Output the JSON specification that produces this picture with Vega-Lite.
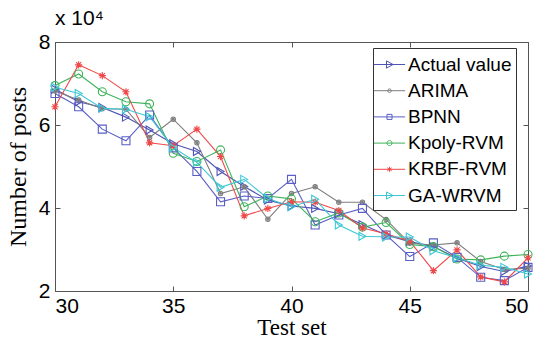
{
  "$schema": "https://vega.github.io/schema/vega-lite/v6.json",
  "width": 473,
  "height": 249,
  "autosize": {"type": "none"},
  "padding": {"left": 55, "top": 42, "right": 15, "bottom": 49},
  "background": "white",
  "title": {"text": "x 10⁴", "anchor": "start", "frame": "group", "font": "Liberation Sans", "fontSize": 21, "fontWeight": "normal", "offset": 2, "color": "black"},
  "config": {
    "view": {"stroke": "#555", "strokeWidth": 1},
    "axis": {"grid": false, "domain": false, "tickSize": -5, "tickColor": "#555", "labelFont": "Liberation Sans", "labelFontSize": 21, "labelColor": "black", "titleFont": "Liberation Serif", "titleFontSize": 24, "titleFontWeight": "normal", "titleColor": "black"},
    "legend": {"orient": "none", "legendX": 318, "legendY": 6, "strokeColor": "#333", "fillColor": "white", "padding": 4, "labelFont": "Liberation Sans", "labelFontSize": 19, "labelColor": "black", "symbolSize": 576, "symbolStrokeWidth": 1, "symbolOpacity": 1, "labelOffset": 6, "rowPadding": 3.2}
  },
  "data": {"values": [
    {"x":30,"s":"Actual value","v":6.86},{"x":31,"s":"Actual value","v":6.56},{"x":32,"s":"Actual value","v":6.42},{"x":33,"s":"Actual value","v":6.19},{"x":34,"s":"Actual value","v":5.88},{"x":35,"s":"Actual value","v":5.55},{"x":36,"s":"Actual value","v":5.36},{"x":37,"s":"Actual value","v":4.88},{"x":38,"s":"Actual value","v":4.52},{"x":39,"s":"Actual value","v":4.19},{"x":40,"s":"Actual value","v":4.05},{"x":41,"s":"Actual value","v":3.99},{"x":42,"s":"Actual value","v":3.86},{"x":43,"s":"Actual value","v":3.60},{"x":44,"s":"Actual value","v":3.35},{"x":45,"s":"Actual value","v":3.19},{"x":46,"s":"Actual value","v":3.07},{"x":47,"s":"Actual value","v":2.79},{"x":48,"s":"Actual value","v":2.59},{"x":49,"s":"Actual value","v":2.47},{"x":50,"s":"Actual value","v":2.60},
    {"x":30,"s":"ARIMA","v":6.82},{"x":31,"s":"ARIMA","v":6.60},{"x":32,"s":"ARIMA","v":6.39},{"x":33,"s":"ARIMA","v":6.38},{"x":34,"s":"ARIMA","v":5.70},{"x":35,"s":"ARIMA","v":6.14},{"x":36,"s":"ARIMA","v":5.57},{"x":37,"s":"ARIMA","v":4.35},{"x":38,"s":"ARIMA","v":4.51},{"x":39,"s":"ARIMA","v":3.73},{"x":40,"s":"ARIMA","v":4.35},{"x":41,"s":"ARIMA","v":4.51},{"x":42,"s":"ARIMA","v":4.14},{"x":43,"s":"ARIMA","v":4.14},{"x":44,"s":"ARIMA","v":3.72},{"x":45,"s":"ARIMA","v":3.15},{"x":46,"s":"ARIMA","v":3.11},{"x":47,"s":"ARIMA","v":3.16},{"x":48,"s":"ARIMA","v":2.71},{"x":49,"s":"ARIMA","v":2.52},{"x":50,"s":"ARIMA","v":2.55},
    {"x":30,"s":"BPNN","v":6.76},{"x":31,"s":"BPNN","v":6.44},{"x":32,"s":"BPNN","v":5.90},{"x":33,"s":"BPNN","v":5.62},{"x":34,"s":"BPNN","v":6.24},{"x":35,"s":"BPNN","v":5.45},{"x":36,"s":"BPNN","v":4.88},{"x":37,"s":"BPNN","v":4.15},{"x":38,"s":"BPNN","v":4.29},{"x":39,"s":"BPNN","v":4.23},{"x":40,"s":"BPNN","v":4.69},{"x":41,"s":"BPNN","v":3.59},{"x":42,"s":"BPNN","v":3.83},{"x":43,"s":"BPNN","v":3.99},{"x":44,"s":"BPNN","v":3.35},{"x":45,"s":"BPNN","v":2.83},{"x":46,"s":"BPNN","v":3.16},{"x":47,"s":"BPNN","v":2.81},{"x":48,"s":"BPNN","v":2.33},{"x":49,"s":"BPNN","v":2.25},{"x":50,"s":"BPNN","v":2.57},
    {"x":30,"s":"Kpoly-RVM","v":6.95},{"x":31,"s":"Kpoly-RVM","v":7.23},{"x":32,"s":"Kpoly-RVM","v":6.80},{"x":33,"s":"Kpoly-RVM","v":6.56},{"x":34,"s":"Kpoly-RVM","v":6.51},{"x":35,"s":"Kpoly-RVM","v":5.32},{"x":36,"s":"Kpoly-RVM","v":5.12},{"x":37,"s":"Kpoly-RVM","v":5.40},{"x":38,"s":"Kpoly-RVM","v":4.03},{"x":39,"s":"Kpoly-RVM","v":4.29},{"x":40,"s":"Kpoly-RVM","v":4.22},{"x":41,"s":"Kpoly-RVM","v":3.67},{"x":42,"s":"Kpoly-RVM","v":3.88},{"x":43,"s":"Kpoly-RVM","v":3.54},{"x":44,"s":"Kpoly-RVM","v":3.65},{"x":45,"s":"Kpoly-RVM","v":3.12},{"x":46,"s":"Kpoly-RVM","v":3.07},{"x":47,"s":"Kpoly-RVM","v":2.77},{"x":48,"s":"Kpoly-RVM","v":2.75},{"x":49,"s":"Kpoly-RVM","v":2.84},{"x":50,"s":"Kpoly-RVM","v":2.88},
    {"x":30,"s":"KRBF-RVM","v":6.44},{"x":31,"s":"KRBF-RVM","v":7.45},{"x":32,"s":"KRBF-RVM","v":7.19},{"x":33,"s":"KRBF-RVM","v":6.80},{"x":34,"s":"KRBF-RVM","v":5.57},{"x":35,"s":"KRBF-RVM","v":5.50},{"x":36,"s":"KRBF-RVM","v":5.90},{"x":37,"s":"KRBF-RVM","v":5.24},{"x":38,"s":"KRBF-RVM","v":3.81},{"x":39,"s":"KRBF-RVM","v":3.99},{"x":40,"s":"KRBF-RVM","v":4.15},{"x":41,"s":"KRBF-RVM","v":4.14},{"x":42,"s":"KRBF-RVM","v":3.94},{"x":43,"s":"KRBF-RVM","v":3.52},{"x":44,"s":"KRBF-RVM","v":3.38},{"x":45,"s":"KRBF-RVM","v":3.20},{"x":46,"s":"KRBF-RVM","v":2.49},{"x":47,"s":"KRBF-RVM","v":2.99},{"x":48,"s":"KRBF-RVM","v":2.34},{"x":49,"s":"KRBF-RVM","v":2.22},{"x":50,"s":"KRBF-RVM","v":2.80},
    {"x":30,"s":"GA-WRVM","v":6.91},{"x":31,"s":"GA-WRVM","v":6.76},{"x":32,"s":"GA-WRVM","v":6.40},{"x":33,"s":"GA-WRVM","v":6.38},{"x":34,"s":"GA-WRVM","v":6.20},{"x":35,"s":"GA-WRVM","v":5.45},{"x":36,"s":"GA-WRVM","v":5.10},{"x":37,"s":"GA-WRVM","v":4.50},{"x":38,"s":"GA-WRVM","v":4.69},{"x":39,"s":"GA-WRVM","v":4.23},{"x":40,"s":"GA-WRVM","v":4.03},{"x":41,"s":"GA-WRVM","v":4.21},{"x":42,"s":"GA-WRVM","v":3.59},{"x":43,"s":"GA-WRVM","v":3.32},{"x":44,"s":"GA-WRVM","v":3.30},{"x":45,"s":"GA-WRVM","v":3.30},{"x":46,"s":"GA-WRVM","v":2.97},{"x":47,"s":"GA-WRVM","v":2.80},{"x":48,"s":"GA-WRVM","v":2.62},{"x":49,"s":"GA-WRVM","v":2.57},{"x":50,"s":"GA-WRVM","v":2.41}
  ]},
  "resolve": {"scale": {"color": "independent", "shape": "independent"}, "axis": {"x": "independent", "y": "independent"}},
  "layer": [
    {
      "mark": {"type": "line", "strokeWidth": 1.1},
      "encoding": {
        "x": {"field": "x", "type": "quantitative", "scale": {"domain": [30, 50], "nice": false}, "axis": {"values": [30, 35, 40, 45, 50], "title": "Test set", "labelPadding": 9, "titlePadding": 0, "titleFontSize": 23}},
        "y": {"field": "v", "type": "quantitative", "scale": {"domain": [2, 8], "nice": false, "zero": false}, "axis": {"values": [2, 4, 6, 8], "title": "Number of posts", "labelPadding": 10, "titlePadding": 8}},
        "color": {"field": "s", "type": "nominal", "legend": null, "scale": {"domain": ["Actual value", "ARIMA", "BPNN", "Kpoly-RVM", "KRBF-RVM", "GA-WRVM"], "range": ["#4e53b5", "#7d7d7d", "#5a5ec6", "#3fb35c", "#f04848", "#3ec8d6"]}}
      }
    },
    {
      "mark": {"type": "point", "filled": false, "strokeWidth": 1.1, "size": 64, "opacity": 1},
      "encoding": {
        "x": {"field": "x", "type": "quantitative", "axis": null},
        "y": {"field": "v", "type": "quantitative", "axis": null},
        "color": {"field": "s", "type": "nominal", "legend": null, "scale": {"domain": ["Actual value", "ARIMA", "BPNN", "Kpoly-RVM", "KRBF-RVM", "GA-WRVM"], "range": ["#4e53b5", "#7d7d7d", "#5a5ec6", "#3fb35c", "#f04848", "#3ec8d6"]}},
        "shape": {"field": "s", "type": "nominal", "legend": null, "scale": {"domain": ["Actual value", "ARIMA", "BPNN", "Kpoly-RVM", "KRBF-RVM", "GA-WRVM"], "range": ["triangle-right", "M0.55,0A0.55,0.55 0 1,1 -0.55,0A0.55,0.55 0 1,1 0.55,0M0.2,0A0.2,0.2 0 1,1 -0.2,0A0.2,0.2 0 1,1 0.2,0", "square", "circle", "M0,-0.9V0.9M-0.9,0H0.9M-0.65,-0.65L0.65,0.65M-0.65,0.65L0.65,-0.65", "triangle-right"]}}
      }
    },
    {
      "mark": {"type": "point", "filled": false, "opacity": 0},
      "encoding": {
        "x": {"field": "x", "type": "quantitative", "axis": {"orient": "top", "values": [30, 35, 40, 45, 50], "labels": false, "title": null}},
        "y": {"field": "v", "type": "quantitative", "axis": {"orient": "right", "values": [2, 4, 6, 8], "labels": false, "title": null}},
        "color": {"field": "s", "type": "nominal", "title": null, "scale": {"domain": ["Actual value", "ARIMA", "BPNN", "Kpoly-RVM", "KRBF-RVM", "GA-WRVM"], "range": ["#4e53b5", "#7d7d7d", "#5a5ec6", "#3fb35c", "#f04848", "#3ec8d6"]}},
        "shape": {"field": "s", "type": "nominal", "title": null, "scale": {"domain": ["Actual value", "ARIMA", "BPNN", "Kpoly-RVM", "KRBF-RVM", "GA-WRVM"], "range": [
          "M-1.3,0H1.3M-0.25,-0.3L0.3,0L-0.25,0.3Z",
          "M-1.3,0H1.3M0.15,0A0.15,0.15 0 1,1 -0.15,0A0.15,0.15 0 1,1 0.15,0",
          "M-1.3,0H1.3M-0.21,-0.21H0.21V0.21H-0.21Z",
          "M-1.3,0H1.3M0.21,0A0.21,0.21 0 1,1 -0.21,0A0.21,0.21 0 1,1 0.21,0",
          "M-1.3,0H1.3M0,-0.21V0.21M-0.18,-0.12L0.18,0.12M-0.18,0.12L0.18,-0.12",
          "M-1.3,0H1.3M-0.25,-0.3L0.3,0L-0.25,0.3Z"
        ]}}
      }
    }
  ]
}
